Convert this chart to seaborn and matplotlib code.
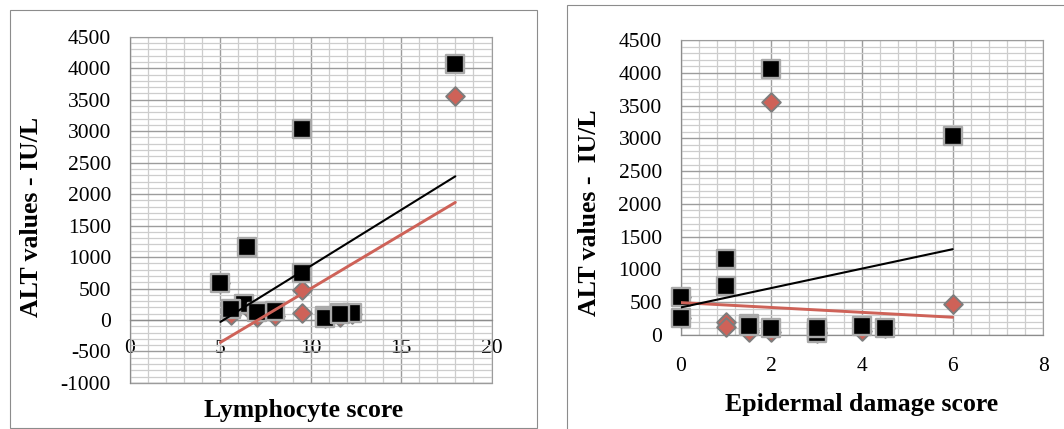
import numpy as np
import pandas as pd
import matplotlib
matplotlib.use("Agg")
import matplotlib.pyplot as plt
from matplotlib.patches import Rectangle
from matplotlib.ticker import MultipleLocator
import seaborn as sns

# Per-patient histology scores and ALT values (IU/L)
lymphocyte_score = [18, 9.5, 6.5, 9.5, 5, 6.33, 5.6, 8, 7, 11.6, 12.3, 10.8, 10.8, 11.6]
epidermal_score = [2, 6, 1, 1, 0, 0, 1.5, 4, 1.5, 2, 4.5, 3, 3, 3]
alt_first = [4065, 3030, 1160, 750, 580, 260, 175, 135, 130, 105, 105, 65, 36, 100]
alt_second = [3560, 480, 200, 117, 580, 260, 80, 60, 50, 45, 100, 50, 30, 100]

x_labels = ["Lymphocyte score", "Epidermal damage score"]
y_labels = ["ALT values - IU/L", "ALT values -  IU/L"]

df = pd.DataFrame({
    "lymphocyte": lymphocyte_score,
    "epidermal": epidermal_score,
    "alt_first": alt_first,
    "alt_second": alt_second,
})

sns.set_style("white")
plt.rcParams["font.family"] = ["Liberation Serif", "DejaVu Serif"]
plt.rcParams["axes.unicode_minus"] = False

RED = "#CE6258"
MAJOR = "#9c9c9c"
MINOR = "#cdcdcd"
FRAME = "#8c8c8c"

W, H = 1064, 429
fig = plt.figure(figsize=(W / 100, H / 100), dpi=100)

def px_rect(x0, y_top, x1, y_bottom):
    return [x0 / W, 1 - y_bottom / H, (x1 - x0) / W, (y_bottom - y_top) / H]

ax_l = fig.add_axes(px_rect(130, 36.8, 491.5, 382.9))
ax_r = fig.add_axes(px_rect(680.7, 40, 1043.3, 335))


def draw_panel(ax, xcol, xlim, ylim, xmajor, xminor):
    sns.scatterplot(data=df, x=xcol, y="alt_second", marker="D", s=90,
                    color=RED, edgecolor="#7d7d7d", linewidth=1.4,
                    ax=ax, zorder=3, legend=False, clip_on=False)
    sns.scatterplot(data=df, x=xcol, y="alt_first", marker="s", s=150,
                    color="black", edgecolor="#a9a9a9", linewidth=1.7,
                    ax=ax, zorder=4, legend=False, clip_on=False)
    sns.regplot(data=df, x=xcol, y="alt_second", scatter=False, ci=None,
                color=RED, line_kws=dict(lw=2.1, zorder=5), ax=ax)
    sns.regplot(data=df, x=xcol, y="alt_first", scatter=False, ci=None,
                color="black", line_kws=dict(lw=1.5, zorder=6), ax=ax)

    ax.set_xlim(*xlim)
    ax.set_ylim(*ylim)
    ax.xaxis.set_major_locator(MultipleLocator(xmajor))
    ax.xaxis.set_minor_locator(MultipleLocator(xminor))
    ax.yaxis.set_major_locator(MultipleLocator(500))
    ax.yaxis.set_minor_locator(MultipleLocator(100))
    ax.set_axisbelow(True)
    ax.grid(which="minor", color=MINOR, lw=0.9)
    ax.grid(which="major", color=MAJOR, lw=1.0)
    ax.tick_params(which="major", direction="out", length=3.6, width=0.8,
                   color=FRAME, labelsize=15.5, pad=10, labelcolor="black")
    ax.tick_params(which="minor", length=0)
    for side in ["top", "right"]:
        ax.spines[side].set_color(MAJOR)
        ax.spines[side].set_linewidth(0.8)
    for side in ["left", "bottom"]:
        ax.spines[side].set_color(FRAME)
        ax.spines[side].set_linewidth(0.9)
    ax.set_xlabel("")
    ax.set_ylabel("")


draw_panel(ax_l, "lymphocyte", (0, 20), (-1000, 4500), 5, 1)
draw_panel(ax_r, "epidermal", (0, 8), (0, 4500), 2, 0.4)
ax_r.tick_params(axis="x", pad=12)

# Horizontal axis of the left panel crosses at zero
ax_l.spines["bottom"].set_position(("data", 0))
ax_l.axhline(-1000, color=MAJOR, lw=1.0, clip_on=False, zorder=0.5)

# Axis titles
title_kw = dict(fontsize=18.5, fontweight="bold", color="black")
fig.text(304 / W, 1 - 411 / H, x_labels[0], ha="center", va="center", **title_kw)
fig.text(862 / W, 1 - 404 / H, x_labels[1], ha="center", va="center", **title_kw)
fig.text(32 / W, 1 - 217 / H, y_labels[0], ha="center", va="center",
         rotation=90, **title_kw)
fig.text(590 / W, 1 - 213 / H, y_labels[1], ha="center", va="center",
         rotation=90, **title_kw)

# Chart frames
fig.patches.append(Rectangle((9.5 / W, 1 - 427.5 / H), 528 / W, 417.5 / H,
                             transform=fig.transFigure, fill=False,
                             ec=FRAME, lw=0.8))
fig.patches.append(Rectangle((566.5 / W, -0.2), 0.6, (424 / H) + 0.2,
                             transform=fig.transFigure, fill=False,
                             ec=FRAME, lw=0.8))

fig.savefig("out.png", dpi=100)
